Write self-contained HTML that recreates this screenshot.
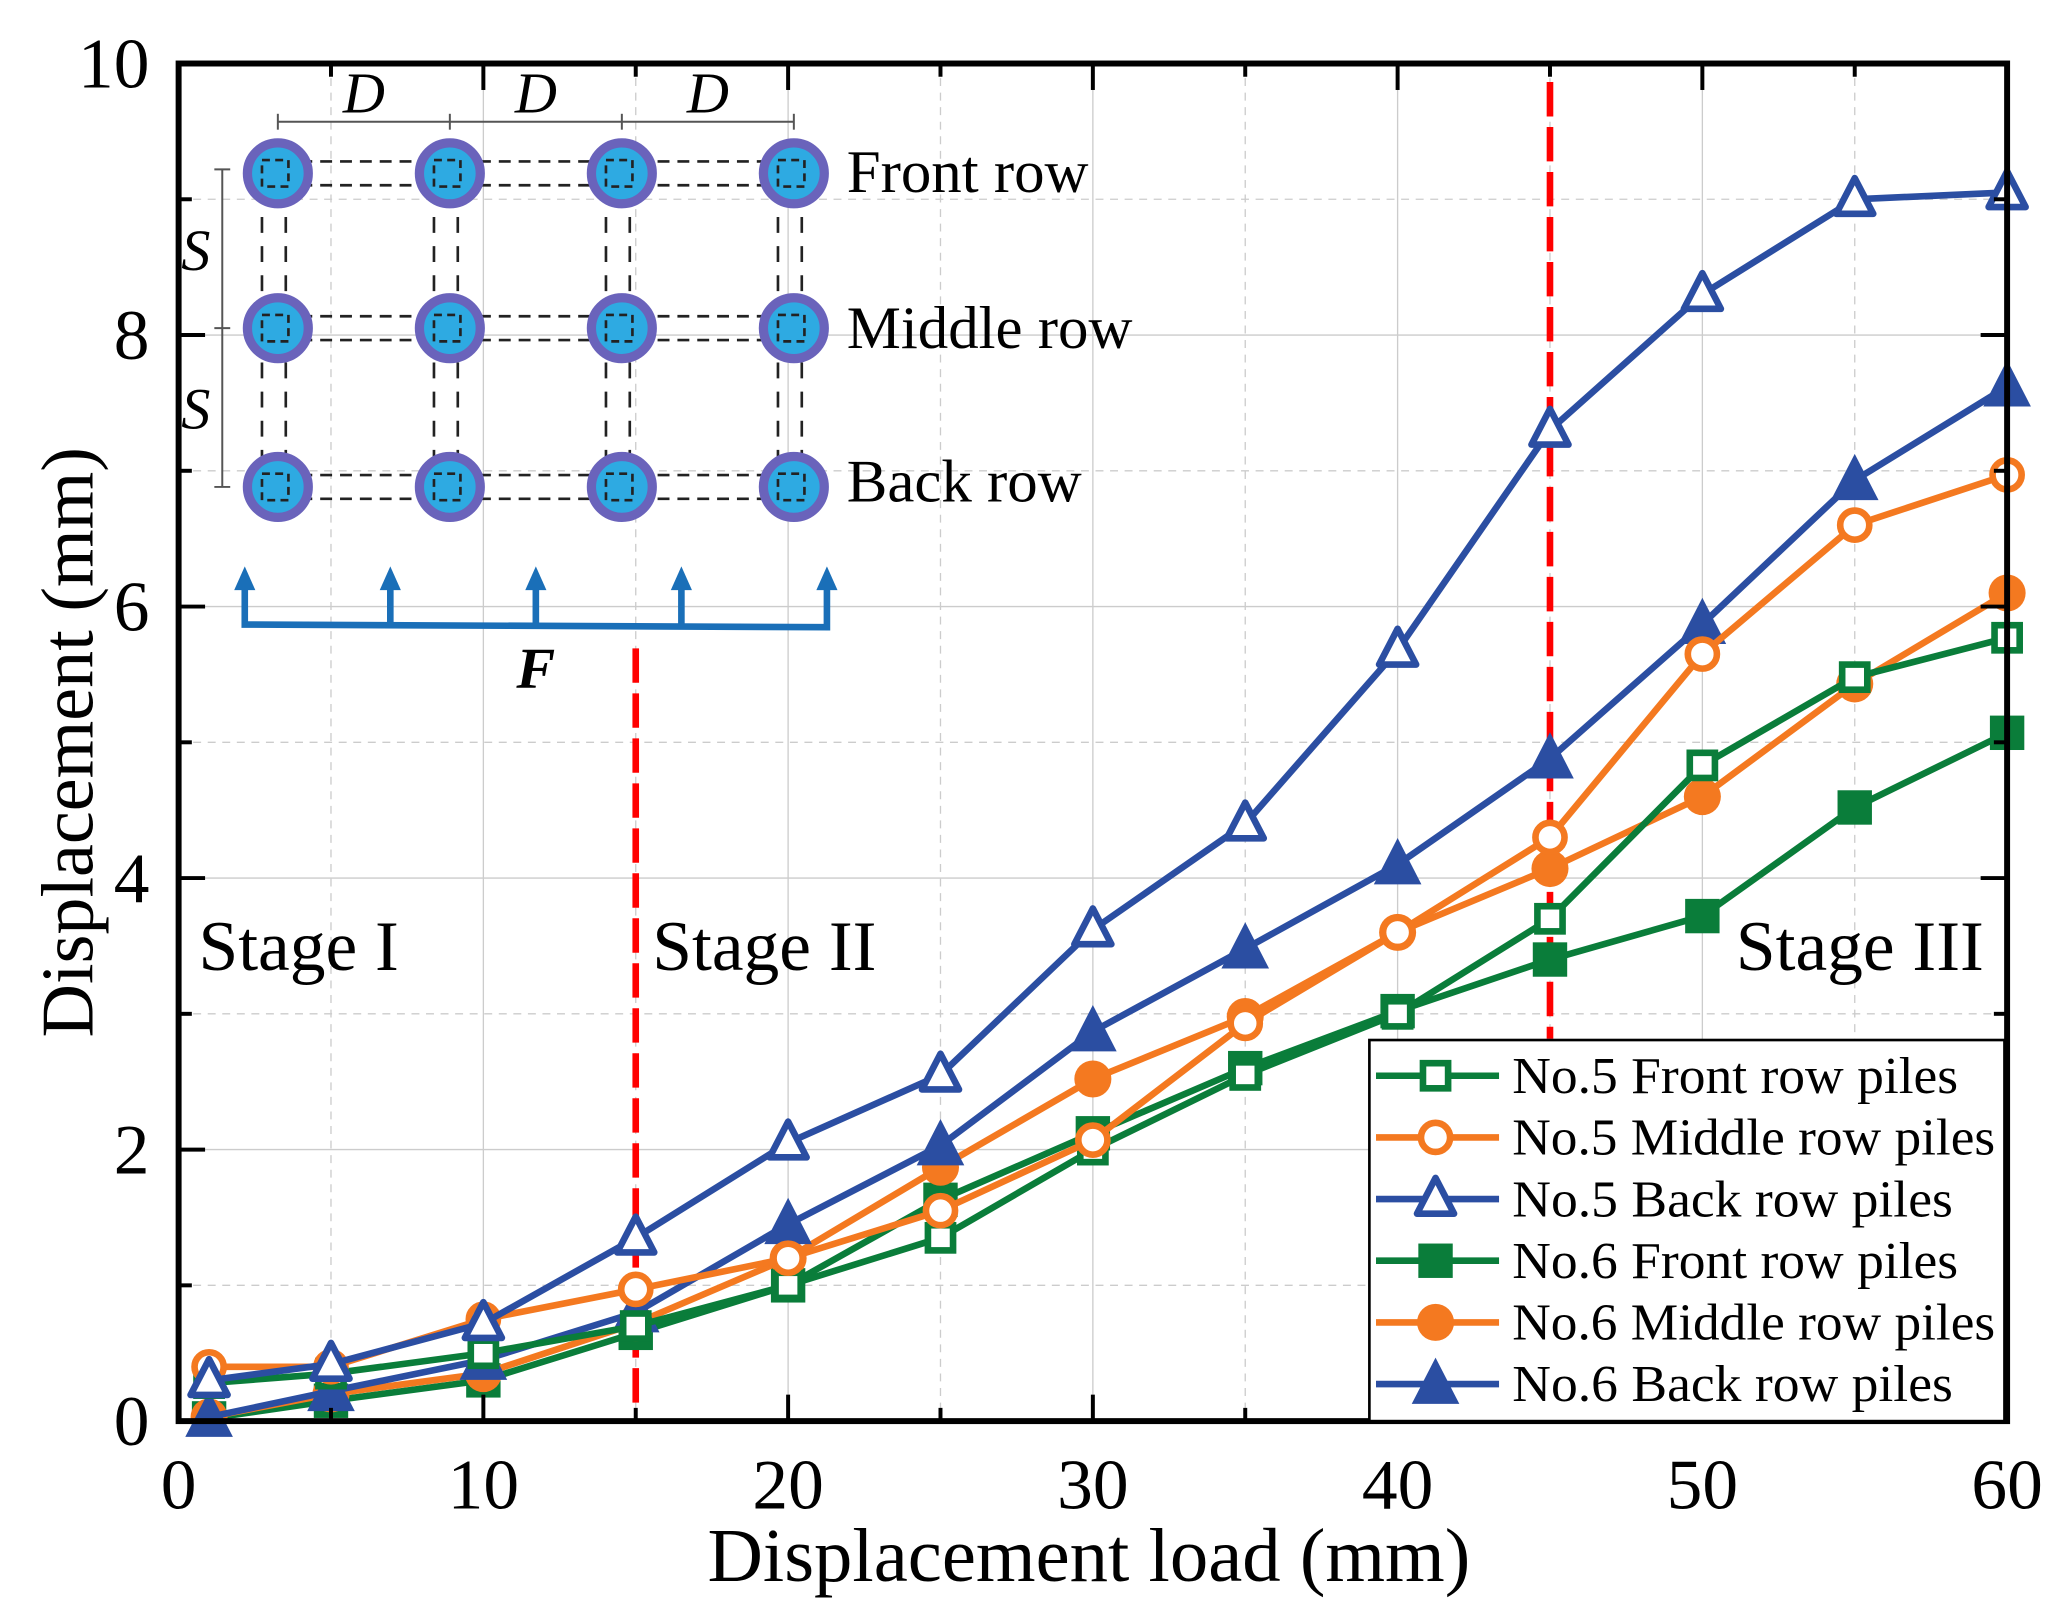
<!DOCTYPE html>
<html><head><meta charset="utf-8"><style>
html,body{margin:0;padding:0;background:#fff;}
svg{display:block;}
text{font-family:"Liberation Serif",serif;}
</style></head><body>
<svg id="chart" width="2064" height="1609" viewBox="0 0 1560 1216" preserveAspectRatio="none" xmlns="http://www.w3.org/2000/svg">
<g id="grid"></g>
<g id="inset">
  <g stroke="#555" stroke-width="1.5" fill="none">
    <line x1="210" y1="92" x2="600" y2="92"/><line x1="210" y1="86" x2="210" y2="98"/><line x1="340" y1="86" x2="340" y2="98"/><line x1="470" y1="86" x2="470" y2="98"/><line x1="600" y1="86" x2="600" y2="98"/>
    <line x1="168" y1="128" x2="168" y2="368"/><line x1="162" y1="128" x2="174" y2="128"/><line x1="162" y1="248" x2="174" y2="248"/><line x1="162" y1="368" x2="174" y2="368"/>
  </g>
  <text x="275" y="85" font-size="44" font-style="italic" text-anchor="middle">D</text>
  <text x="405" y="85" font-size="44" font-style="italic" text-anchor="middle">D</text>
  <text x="535" y="85" font-size="44" font-style="italic" text-anchor="middle">D</text>
  <text x="148" y="204" font-size="44" font-style="italic" text-anchor="middle">S</text>
  <text x="148" y="324" font-size="44" font-style="italic" text-anchor="middle">S</text>
  <g id="piles"></g>
  <text x="640" y="145" font-size="46">Front row</text>
  <text x="640" y="263" font-size="46">Middle row</text>
  <text x="640" y="379" font-size="46">Back row</text>
  <g stroke="#1a6fb8" stroke-width="5" fill="#1a6fb8">
    <polyline points="185,440 185,472 625,474 625,440" fill="none"/>
    <line x1="295" y1="472" x2="295" y2="440"/><line x1="405" y1="473" x2="405" y2="440"/><line x1="515" y1="473" x2="515" y2="440"/>
    <polygon points="177,446 185,428 193,446" stroke="none"/><polygon points="287,446 295,428 303,446" stroke="none"/><polygon points="397,446 405,428 413,446" stroke="none"/><polygon points="507,446 515,428 523,446" stroke="none"/><polygon points="617,446 625,428 633,446" stroke="none"/>
  </g>
  <text x="405" y="520" font-size="44" font-weight="bold" font-style="italic" text-anchor="middle">F</text>
</g>
<g id="stagelines"></g>
<text x="150" y="733" font-size="54">Stage I</text>
<text x="493" y="733" font-size="54">Stage II</text>
<text x="1312" y="733" font-size="54">Stage III</text>
<g id="series"></g>
<g id="axes"></g>
<g id="legend"></g>
<text x="823" y="1195" font-size="58" text-anchor="middle">Displacement load (mm)</text>
<text transform="translate(70,561) rotate(-90)" font-size="56" text-anchor="middle">Displacement (mm)</text>
</svg>
<script>
const xValues = [1,5,10,15,20,25,30,35,40,45,50,55,60];
const no5Front  = [0.28,0.35,0.5,0.7,1.0,1.35,2.0,2.55,3.0,3.7,4.83,5.48,5.77];
const no5Middle = [0.4,0.4,0.75,0.97,1.2,1.55,2.07,2.93,3.6,4.3,5.65,6.6,6.97];
const no5Back   = [0.3,0.42,0.72,1.35,2.05,2.55,3.62,4.4,5.68,7.3,8.3,9.0,9.05];
const no6Front  = [0.02,0.15,0.3,0.65,1.0,1.63,2.12,2.6,3.02,3.4,3.72,4.52,5.07];
const no6Middle = [0.03,0.2,0.35,0.72,1.2,1.87,2.52,2.98,3.6,4.07,4.6,5.43,6.1];
const no6Back   = [0.03,0.22,0.45,0.8,1.45,2.03,2.87,3.48,4.1,4.88,5.87,6.93,7.62];
const xTicks = [0,10,20,30,40,50,60];
const yTicks = [0,2,4,6,8,10];
const stageBounds = [15,45];
const seriesNames = ["No.5 Front row piles","No.5 Middle row piles","No.5 Back row piles","No.6 Front row piles","No.6 Middle row piles","No.6 Back row piles"];

const NS="http://www.w3.org/2000/svg";
const L=135,R=1517,T=48,B=1074;
const X=v=>L+(v-0)/(60-0)*(R-L);
const Y=v=>B-(v-0)/(10-0)*(B-T);
function mk(tag,attrs,parent){const e=document.createElementNS(NS,tag);for(const k in attrs)e.setAttribute(k,attrs[k]);parent.appendChild(e);return e;}

const grid=document.getElementById('grid');
for(let v=5;v<60;v+=5){const g=mk('line',{x1:X(v),x2:X(v),y1:T,y2:B,stroke:'#ccc','stroke-width':1,'stroke-dasharray':v%10?'6,5':'none'},grid);

}
for(let v=1;v<10;v++){const g=mk('line',{x1:L,x2:R,y1:Y(v),y2:Y(v),stroke:'#ccc','stroke-width':1,'stroke-dasharray':v%2?'6,5':'none'},grid);

}

const piles=document.getElementById('piles');
const px=[210,340,470,600],py=[131,248,368];
py.forEach(y=>{[-9,9].forEach(d=>{const l=mk('line',{x1:197,x2:613,y1:y+d,y2:y+d,stroke:'#222','stroke-width':2,'stroke-dasharray':'9,6'},piles);

});});
px.forEach(x=>{[-12,6].forEach(d=>{const l=mk('line',{x1:x+d,x2:x+d,y1:120,y2:380,stroke:'#222','stroke-width':2,'stroke-dasharray':'12,10'},piles);

});});
py.forEach(y=>px.forEach(x=>{const c=mk('circle',{cx:x,cy:y,r:23,fill:'#2eaae2',stroke:'#6a63bb','stroke-width':7},piles);


const s=mk('rect',{x:x-12,y:y-10,width:20,height:20,fill:'none',stroke:'#222','stroke-width':2,'stroke-dasharray':'6,4'},piles);

}));

const sl=document.getElementById('stagelines');
const st1=mk('line',{x1:X(stageBounds[0]),x2:X(stageBounds[0]),y1:490,y2:1060,stroke:'#f00','stroke-width':5,'stroke-dasharray':'26,8'},sl);


const st2=mk('line',{x1:X(stageBounds[1]),x2:X(stageBounds[1]),y1:62,y2:785,stroke:'#f00','stroke-width':5,'stroke-dasharray':'26,8'},sl);



const G='#0a7d3a',O='#f47920',Bl='#2b4ea2';
const defs=[[no5Front,G,'square',false],[no5Middle,O,'circle',false],[no5Back,Bl,'tri',false],[no6Front,G,'square',true],[no6Middle,O,'circle',true],[no6Back,Bl,'tri',true]];
function marker(parent,shape,x,y,col,filled){
  const fill=filled?col:'#fff';let m;
  if(shape==='square'){const s=filled?26:19;m=mk('rect',{x:x-s/2,y:y-s/2,width:s,height:s,fill,stroke:col,'stroke-width':filled?0:5},parent);}
  else if(shape==='circle'){m=mk('circle',{cx:x,cy:y,r:filled?14:11,fill,stroke:col,'stroke-width':filled?0:5},parent);}
  else {const h=filled?18:14;m=mk('polygon',{points:`${x},${y-h-2} ${x-h},${y+h-3} ${x+h},${y+h-3}`,fill,stroke:col,'stroke-width':filled?0:5,'stroke-linejoin':'round'},parent);}
  return m;
}
const sg=document.getElementById('series');
[3,4,5,0,1,2].forEach(i=>{const [d,col,sh,f]=defs[i];
  const g=mk('g',{},sg);
  
  
  const pl=mk('polyline',{points:d.map((v,j)=>X(xValues[j])+','+Y(v)).join(' '),fill:'none',stroke:col,'stroke-width':5,'stroke-linejoin':'round'},g);
  
  
  d.forEach((v,j)=>{const m=marker(g,sh,X(xValues[j]),Y(v),col,f);
    
    });
});

const ax=document.getElementById('axes');
const fr=mk('rect',{x:L,y:T,width:R-L,height:B-T,fill:'none',stroke:'#000','stroke-width':4.5},ax);


for(let v=0;v<=60;v+=5){const len=v%10?10:20;
  [[B,B-len],[T,T+len]].forEach(([a,b])=>{const t=mk('line',{x1:X(v),x2:X(v),y1:a,y2:b,stroke:'#000','stroke-width':3},ax);
  
  });}
for(let v=0;v<=10;v++){const len=v%2?10:20;
  [[L,L+len],[R,R-len]].forEach(([a,b])=>{const t=mk('line',{x1:a,x2:b,y1:Y(v),y2:Y(v),stroke:'#000','stroke-width':3},ax);
  
  });}
xTicks.forEach(v=>{const t=mk('text',{x:X(v),y:1140,'font-size':54,'text-anchor':'middle'},ax);t.textContent=v;
  
  });
yTicks.forEach(v=>{const t=mk('text',{x:113,y:Y(v)+18,'font-size':54,'text-anchor':'end'},ax);t.textContent=v;
  
  });

const lg=document.getElementById('legend');
const box=mk('rect',{x:1035,y:786,width:480,height:288,fill:'#fff',stroke:'#000','stroke-width':2},lg);


defs.forEach(([d,col,sh,f],i)=>{const y=813+i*46.6;
  const g=mk('g',{},lg);
  
  
  mk('line',{x1:1040,x2:1133,y1:y,y2:y,stroke:col,'stroke-width':5},g);
  marker(g,sh,1085,y,col,f);
  const t=mk('text',{x:1143,y:y+13,'font-size':39,textLength:(i===1||i===4)?365:(i===2||i===5?333:337),lengthAdjust:'spacingAndGlyphs'},g);t.textContent=seriesNames[i];
});
</script>
</body></html>
